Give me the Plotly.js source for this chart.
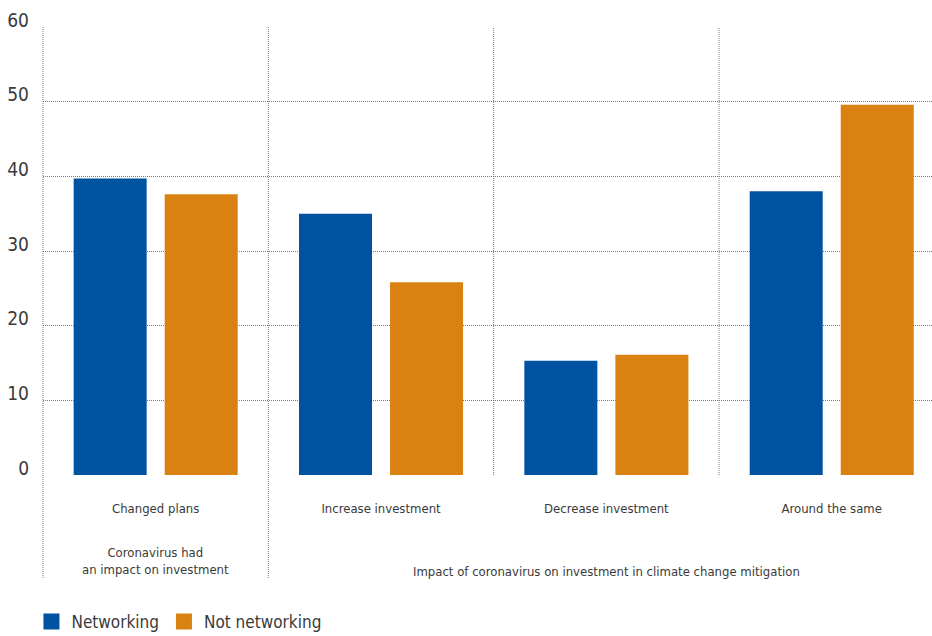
<!DOCTYPE html>
<html>
<head>
<meta charset="utf-8">
<script src="https://cdn.plot.ly/plotly-3.0.1.min.js"></script>
<style>html,body{margin:0;padding:0;background:#fff;}#chart{width:932px;height:636px;}</style>
</head>
<body>
<div id="chart"></div>
<script>
var categories = ["Changed plans", "Increase investment", "Decrease investment", "Around the same"];
var networking = [39.7, 35.0, 15.3, 38.0];
var notNetworking = [37.6, 25.8, 16.1, 49.6];
var seriesNames = ["Networking", "Not networking"];
var groupLabels = ["Coronavirus had<br>an impact on investment", "Impact of coronavirus on investment in climate change mitigation"];
var yTicks = [0, 10, 20, 30, 40, 50, 60];

var FONT = "DejaVu Sans Condensed, Liberation Sans Narrow, sans-serif";
var TXT = "#3a3a3a";
var BLUE = "#0053a0";
var ORANGE = "#d98212";
var GRID = "#7a7a7a";

var catIdx = categories.map(function(c, i){ return i; });

var traces = [
  {type: "bar", x: catIdx, y: networking, name: seriesNames[0], marker: {color: BLUE}, showlegend: false, hoverinfo: "y"},
  {type: "bar", x: catIdx, y: notNetworking, name: seriesNames[1], marker: {color: ORANGE}, showlegend: false, hoverinfo: "y"},
  {type: "scatter", mode: "markers", x: [null], y: [null], name: seriesNames[0], marker: {symbol: "square", size: 16, color: BLUE}},
  {type: "scatter", mode: "markers", x: [null], y: [null], name: seriesNames[1], marker: {symbol: "square", size: 16, color: ORANGE}}
];

var plotH = 448;
function py(px){ return -px / plotH; } // pixels below axis -> paper

var shapes = [];
var dash = "1px,1px";
shapes.push({type: "line", xref: "x domain", yref: "paper", x0: 0, x1: 0, y0: py(103), y1: 1, line: {color: GRID, width: 1, dash: dash}});
for (var i = 1; i < categories.length; i++) {
  var xv = i - 0.5;
  var ext = (i === 1) ? py(103) : 0;
  shapes.push({type: "line", xref: "x", yref: "paper", x0: xv, x1: xv, y0: ext, y1: 1, line: {color: GRID, width: 1, dash: dash}});
}

var annotations = [
  {xref: "x", yref: "paper", x: 0, y: py(86), text: groupLabels[0], showarrow: false, font: {family: FONT, size: 13, color: TXT}, xanchor: "center", yanchor: "middle"},
  {xref: "x", yref: "paper", x: 2, y: py(96), text: groupLabels[1], showarrow: false, font: {family: FONT, size: 13, color: TXT}, xanchor: "center", yanchor: "middle"}
];

var layout = {
  width: 932, height: 636,
  margin: {l: 43, r: 0, t: 27, b: 161, pad: 0, autoexpand: false},
  paper_bgcolor: "#fff", plot_bgcolor: "#fff",
  font: {family: FONT, color: TXT},
  barmode: "group",
  bargap: 0.192,
  bargroupgap: 0.198,
  xaxis: {
    type: "linear",
    range: [-0.5, 3.445],
    tickvals: catIdx,
    ticktext: categories,
    showgrid: false, zeroline: false, showline: false, ticks: "",
    tickfont: {family: FONT, size: 13, color: TXT},
    ticklabelstandoff: 24,
    fixedrange: true
  },
  yaxis: {
    range: [0, 60],
    tickvals: yTicks,
    showgrid: true, gridcolor: GRID, gridwidth: 1, griddash: dash,
    zeroline: false, showline: false, ticks: "",
    tickfont: {family: FONT, size: 19, color: TXT},
    ticklabelshift: -7,
    ticklabelstandoff: 13,
    fixedrange: true
  },
  showlegend: true,
  legend: {
    orientation: "h",
    x: -0.013, xanchor: "left",
    y: py(147), yanchor: "middle",
    font: {family: FONT, size: 17, color: TXT},
    bgcolor: "rgba(0,0,0,0)"
  },
  shapes: shapes,
  annotations: annotations
};

Plotly.newPlot("chart", traces, layout, {displayModeBar: false, staticPlot: true});
</script>
</body>
</html>
